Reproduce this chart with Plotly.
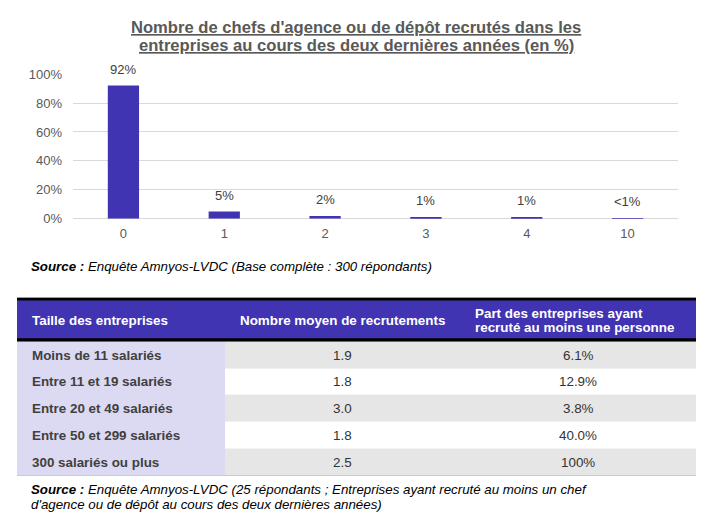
import plotly.graph_objects as go

W, H = 716, 529

# ---- Bar chart data ----
categories = ["0", "1", "2", "3", "4", "10"]
values = [92, 5, 2, 1, 1, 0.3]
value_labels = ["92%", "5%", "2%", "1%", "1%", "<1%"]
y_ticks = [0, 20, 40, 60, 80, 100]
y_tick_labels = ["0%", "20%", "40%", "60%", "80%", "100%"]

# ---- Table data ----
table_header = ["Taille des entreprises", "Nombre moyen de recrutements",
                ["Part des entreprises ayant", "recruté au moins une personne"]]
taille = ["Moins de 11 salariés", "Entre 11 et 19 salariés", "Entre 20 et 49 salariés",
          "Entre 50 et 299 salariés", "300 salariés ou plus"]
nombre_moyen = ["1.9", "1.8", "3.0", "1.8", "2.5"]
part = ["6.1%", "12.9%", "3.8%", "40.0%", "100%"]

title_lines = ["Nombre de chefs d'agence ou de dépôt recrutés dans les",
               "entreprises au cours des deux dernières années (en %)"]
source1 = "Enquête Amnyos-LVDC (Base complète : 300 répondants)"
source2 = ["Enquête Amnyos-LVDC (25 répondants ; Entreprises ayant recruté au moins un chef",
           "d'agence ou de dépôt au cours des deux dernières années)"]

# ---- Styles / layout constants ----
FONT = "Liberation Sans, Arial, sans-serif"
PURPLE = "#4034B2"
LAV = "#DCD9F2"
GRAY = "#E6E6E6"
WHITE = "#FFFFFF"
HEADER_H = 45.0
ROW_H = 27.6
COL_W = [208, 235, 236]
TABLE_TOP, TABLE_LEFT = 299, 17
PAD = 13


def py(px):
    return 1 - px / H


def pxx(px):
    return px / W


fig = go.Figure()

# Bar chart
fig.add_trace(go.Bar(
    x=categories, y=values, marker=dict(color=PURPLE, line=dict(width=0)),
    hoverinfo="skip", showlegend=False, xaxis="x", yaxis="y",
))

annotations = []
for i, (v, t) in enumerate(zip(values, value_labels)):
    annotations.append(dict(
        x=i, y=v, xref="x", yref="y", text=t, showarrow=False,
        yanchor="bottom", yshift=7, font=dict(family=FONT, size=13, color="#404040"),
    ))

# Title (two underlined lines)
for i, line in enumerate(title_lines):
    annotations.append(dict(
        x=pxx(356), y=py(21 + 19 * i), xref="paper", yref="paper",
        text=f"<u><b>{line}</b></u>", showarrow=False, xanchor="center", yanchor="middle",
        font=dict(family=FONT, size=16.6, color="#595959"),
    ))

# Sources
SRC_FONT = dict(family=FONT, size=13.3, color="#000000")
annotations.append(dict(
    x=pxx(29), y=py(267), xref="paper", yref="paper",
    text=f"<b><i>Source :</i></b><i> {source1}</i>", showarrow=False,
    xanchor="left", yanchor="middle", font=SRC_FONT,
))
annotations.append(dict(
    x=pxx(29), y=py(497), xref="paper", yref="paper",
    text=f"<b><i>Source :</i></b><i> {source2[0]}</i>", showarrow=False,
    xanchor="left", yanchor="middle", font=SRC_FONT,
))
annotations.append(dict(
    x=pxx(29), y=py(512), xref="paper", yref="paper",
    text=f"<i>{source2[1]}</i>", showarrow=False,
    xanchor="left", yanchor="middle", font=SRC_FONT,
))

# ---- Table drawn as a heatmap of cell fills on its own axes ----
n = len(taille)
col_edges = [0]
for w in COL_W:
    col_edges.append(col_edges[-1] + w)
row_edges = [0, HEADER_H] + [HEADER_H + ROW_H * (k + 1) for k in range(n)]
table_w = col_edges[-1]
table_h = row_edges[-1]

# codes: 0 header, 1 lavender, 2 gray, 3 white
z = [[0, 0, 0]]
for k in range(n):
    s = 2 if k % 2 == 0 else 3
    z.append([1, s, s])

fig.add_trace(go.Heatmap(
    z=z, x=col_edges, y=row_edges, zmin=0, zmax=3,
    colorscale=[[0, PURPLE], [0.1667, PURPLE], [0.1667, LAV], [0.5, LAV],
                [0.5, GRAY], [0.8333, GRAY], [0.8333, WHITE], [1, WHITE]],
    showscale=False, hoverinfo="skip", xaxis="x2", yaxis="y2",
))

HDR_FONT = dict(family=FONT, size=13.4, color="white")
for j, h in enumerate(table_header):
    lines = h if isinstance(h, list) else [h]
    nl = len(lines)
    for li, line in enumerate(lines):
        yc = HEADER_H / 2 + 1 + (li - (nl - 1) / 2) * 15
        annotations.append(dict(
            x=col_edges[j] + PAD, y=yc, xref="x2", yref="y2", text=f"<b>{line}</b>",
            showarrow=False, xanchor="left", yanchor="middle", font=HDR_FONT,
        ))

for k in range(n):
    yc = (row_edges[k + 1] + row_edges[k + 2]) / 2 + 0.5
    annotations.append(dict(
        x=col_edges[0] + PAD, y=yc, xref="x2", yref="y2", text=f"<b>{taille[k]}</b>",
        showarrow=False, xanchor="left", yanchor="middle",
        font=dict(family=FONT, size=13.4, color="#404040"),
    ))
    for j, col in ((1, nombre_moyen), (2, part)):
        annotations.append(dict(
            x=(col_edges[j] + col_edges[j + 1]) / 2, y=yc, xref="x2", yref="y2",
            text=col[k], showarrow=False, xanchor="center", yanchor="middle",
            font=dict(family=FONT, size=13.4, color="#333333"),
        ))

# thick black rules of the table (top, under header, bottom)
shapes = []
for yy in (1.5, HEADER_H - 1.5, table_h + 1.5):
    shapes.append(dict(type="line", xref="x2", yref="y2", x0=0, x1=table_w,
                       y0=yy, y1=yy, line=dict(color="black", width=3)))

fig.update_layout(
    width=W, height=H, margin=dict(l=0, r=0, t=0, b=0),
    paper_bgcolor="white", plot_bgcolor="white",
    bargap=0.69, annotations=annotations, shapes=shapes,
    font=dict(family=FONT, size=13, color="#595959"),
    showlegend=False,
    xaxis=dict(domain=[pxx(73), pxx(678)], type="category", range=[-0.5, 5.5],
               showgrid=False, showline=False, ticks="", anchor="y",
               ticklabelstandoff=5,
               tickfont=dict(family=FONT, size=13, color="#595959"), fixedrange=True),
    yaxis=dict(domain=[py(218), py(69)], range=[0, 100], tickvals=y_ticks,
               ticktext=y_tick_labels, showgrid=True, gridcolor="#D9D9D9", gridwidth=1,
               zeroline=True, zerolinecolor="#D9D9D9", zerolinewidth=1, anchor="x",
               showline=False, ticks="", ticklabelstandoff=10,
               tickfont=dict(family=FONT, size=13, color="#595959"), fixedrange=True),
    xaxis2=dict(domain=[pxx(TABLE_LEFT), pxx(TABLE_LEFT + table_w)], range=[0, table_w],
                visible=False, fixedrange=True, anchor="y2"),
    yaxis2=dict(domain=[py(TABLE_TOP + table_h), py(TABLE_TOP)], range=[table_h, 0],
                visible=False, fixedrange=True, anchor="x2"),
)

fig.write_html("out.html", config={"displayModeBar": False},
               post_script="document.body.style.margin='0';")
